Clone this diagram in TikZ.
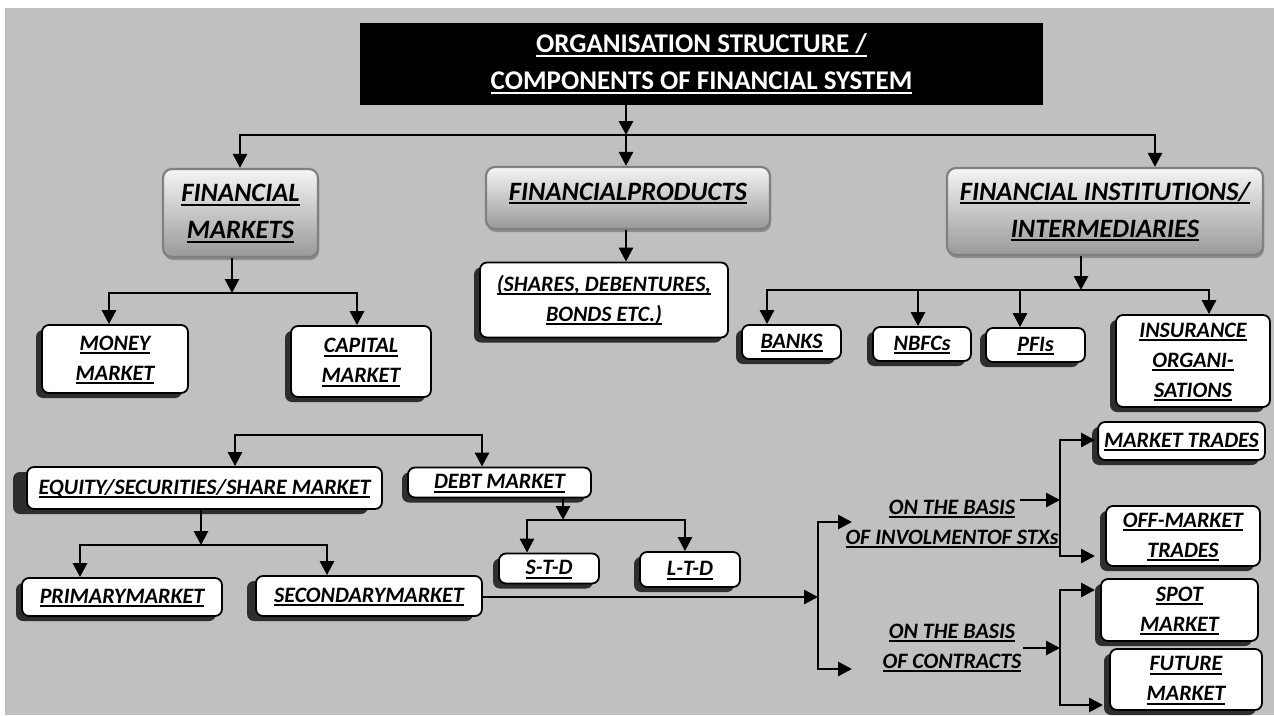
\documentclass[tikz,border=0pt]{standalone}
\usepackage{fontspec}
\setmainfont{Carlito}
\usepackage{tikz}
\usetikzlibrary{arrows.meta,shadows}
\definecolor{bggray}{RGB}{192,192,192}
\newcommand{\ulx}[1]{\setbox0=\hbox{#1}\rlap{\rule[-4pt]{\wd0}{2pt}}\box0}

\begin{document}
\begin{tikzpicture}[x=1pt,y=-1pt,>={Triangle[length=14pt,width=14pt]},
lvl/.style={draw=black!50,line width=2.2pt,rounded corners=9pt,top color=black!4,bottom color=black!40,inner sep=0pt,
 drop shadow={shadow xshift=1pt,shadow yshift=-3pt,fill=black!45,opacity=1},font=\fontsize{26.5}{37}\selectfont\bfseries\itshape},
wbox/.style={draw=black,line width=1.8pt,fill=white,rounded corners=7pt,inner sep=0pt,
 drop shadow={shadow xshift=-#1,shadow yshift=-5pt,fill=black!82,opacity=1},font=\fontsize{22}{30}\selectfont\bfseries\itshape},
wbox/.default=6pt,
plain/.style={inner sep=0pt,font=\fontsize{22}{30}\selectfont\bfseries\itshape},
arr/.style={line width=2.8pt,->},
both/.style={line width=2.8pt,<->}]
\useasboundingbox (0,0) rectangle (1274,715);
\fill[bggray] (5,8) rectangle (1274,715);

\node[fill=black,minimum width=683pt,minimum height=82pt,inner sep=0pt,text=white,font=\fontsize{27}{37}\selectfont\bfseries] (org) at (701.5,64) {\begin{tabular}{c}\ulx{ORGANISATION STRUCTURE /}\\\ulx{COMPONENTS OF FINANCIAL SYSTEM}\end{tabular}};

\node[lvl,minimum width=155pt,minimum height=88pt] (fm) at (240.5,213) {\begin{tabular}{c}\ulx{FINANCIAL}\\\ulx{MARKETS}\end{tabular}};
\node[lvl,minimum width=284pt,minimum height=62pt,text depth=23pt] (fp) at (628,198) {\begin{tabular}{c}\ulx{FINANCIALPRODUCTS}\end{tabular}};
\node[lvl,minimum width=316pt,minimum height=87pt] (fi) at (1105,211.5) {\begin{tabular}{c}\ulx{FINANCIAL INSTITUTIONS/}\\\ulx{INTERMEDIARIES}\end{tabular}};

\node[wbox,minimum width=146pt,minimum height=68pt] (mm) at (115,359) {\begin{tabular}{c}\ulx{MONEY}\\\ulx{MARKET}\end{tabular}};
\node[wbox,minimum width=140pt,minimum height=71pt] (cm) at (361,361.5) {\begin{tabular}{c}\ulx{CAPITAL}\\\ulx{MARKET}\end{tabular}};
\node[wbox,minimum width=248pt,minimum height=75pt] (sh) at (604,300) {\begin{tabular}{c}\ulx{(SHARES, DEBENTURES,}\\\ulx{BONDS ETC.)}\end{tabular}};

\node[wbox,minimum width=99pt,minimum height=34pt] (bk) at (791.5,342) {\begin{tabular}{c}\ulx{BANKS}\end{tabular}};
\node[wbox,minimum width=98pt,minimum height=34pt] (nb) at (922,344) {\begin{tabular}{c}\ulx{NBFCs}\end{tabular}};
\node[wbox,minimum width=99pt,minimum height=34pt] (pf) at (1035.5,345) {\begin{tabular}{c}\ulx{PFIs}\end{tabular}};
\node[wbox,minimum width=154pt,minimum height=92pt] (ins) at (1193,361) {\begin{tabular}{c}\ulx{INSURANCE}\\\ulx{ORGANI-}\\\ulx{SATIONS}\end{tabular}};

\node[wbox=14pt,minimum width=355pt,minimum height=42pt] (eq) at (204.5,488) {\begin{tabular}{c}\ulx{EQUITY/SECURITIES/SHARE MARKET}\end{tabular}};
\node[wbox,minimum width=183pt,minimum height=29pt] (debt) at (499.5,482.5) {\begin{tabular}{c}\ulx{DEBT MARKET}\end{tabular}};
\node[wbox,minimum width=200pt,minimum height=38pt] (pm) at (122,597) {\begin{tabular}{c}\ulx{PRIMARYMARKET}\end{tabular}};
\node[wbox=9pt,minimum width=226pt,minimum height=40pt] (sm) at (369,596) {\begin{tabular}{c}\ulx{SECONDARYMARKET}\end{tabular}};
\node[wbox,minimum width=100pt,minimum height=25pt] (std) at (549,568.5) {\begin{tabular}{c}\ulx{S-T-D}\end{tabular}};
\node[wbox,minimum width=100pt,minimum height=35pt] (ltd) at (690,569.5) {\begin{tabular}{c}\ulx{L-T-D}\end{tabular}};

\node[plain] (on1) at (952,523) {\begin{tabular}{@{}c@{}}\ulx{ON THE BASIS}\\\ulx{OF INVOLMENTOF STXs}\end{tabular}};
\node[plain] (on2) at (952,647) {\begin{tabular}{@{}c@{}}\ulx{ON THE BASIS}\\\ulx{OF CONTRACTS}\end{tabular}};

\node[wbox,minimum width=161pt,minimum height=38pt] (mt) at (1181.5,441) {\begin{tabular}{c}\ulx{MARKET TRADES}\end{tabular}};
\node[wbox,minimum width=154pt,minimum height=56pt] (om) at (1183,536) {\begin{tabular}{c}\ulx{OFF-MARKET}\\\ulx{TRADES}\end{tabular}};
\node[wbox,minimum width=157pt,minimum height=62pt] (sp) at (1179.5,610) {\begin{tabular}{c}\ulx{SPOT}\\\ulx{MARKET}\end{tabular}};
\node[wbox,minimum width=152pt,minimum height=61pt] (fu) at (1186,679.5) {\begin{tabular}{c}\ulx{FUTURE}\\\ulx{MARKET}\end{tabular}};

\coordinate (t0) at (626,135);
\coordinate (t1) at (240,135);
\coordinate (t2) at (1155,135);
\coordinate (m0) at (232,293);
\coordinate (m1) at (109,293);
\coordinate (m2) at (357,293);
\coordinate (i0) at (1081,290);
\coordinate (i1) at (767,290);
\coordinate (i2) at (918,290);
\coordinate (i3) at (1020,290);
\coordinate (i4) at (1209,290);
\coordinate (e1) at (235,435);
\coordinate (e2) at (482,435);
\coordinate (q0) at (201,545);
\coordinate (q1) at (80,545);
\coordinate (q2) at (327,545);
\coordinate (d0) at (563,520);
\coordinate (d1) at (527,520);
\coordinate (d2) at (685,520);
\coordinate (s0) at (818,597);
\coordinate (s1) at (818,522);
\coordinate (s2) at (818,669);
\coordinate (s3) at (852,522);
\coordinate (s4) at (852,669);
\coordinate (k0) at (1060,500);
\coordinate (k1) at (1060,440);
\coordinate (k2) at (1060,556);
\coordinate (k3) at (1095,440);
\coordinate (k4) at (1095,556);
\coordinate (k5) at (1020,500);
\coordinate (c0) at (1060,648);
\coordinate (c1) at (1060,590);
\coordinate (c2) at (1060,705);
\coordinate (c3) at (1095,590);
\coordinate (c4) at (1103,705);
\coordinate (c5) at (1023,648);

\draw[arr] (t0 |- org.south) -- (t0);
\draw[both] (t1 |- fm.north) -- (t1) -- (t2) -- (t2 |- fi.north);
\draw[arr] (t0) -- (t0 |- fp.north);
\draw[arr] (m0 |- fm.south) -- (m0);
\draw[both] (m1 |- mm.north) -- (m1) -- (m2) -- (m2 |- cm.north);
\draw[arr] (t0 |- fp.south) -- (t0 |- sh.north);
\draw[arr] (i0 |- fi.south) -- (i0);
\draw[both] (i1 |- bk.north) -- (i1) -- (i4) -- (i4 |- ins.north);
\draw[arr] (i2) -- (i2 |- nb.north);
\draw[arr] (i3) -- (i3 |- pf.north);
\draw[both] (e1 |- eq.north) -- (e1) -- (e2) -- (e2 |- debt.north);
\draw[arr] (q0 |- eq.south) -- (q0);
\draw[both] (q1 |- pm.north) -- (q1) -- (q2) -- (q2 |- sm.north);
\draw[arr] (d0 |- debt.south) -- (d0);
\draw[both] (d1 |- std.north) -- (d1) -- (d2) -- (d2 |- ltd.north);
\draw[arr] (sm.east |- s0) -- (s0);
\draw[both] (s3) -- (s1) -- (s2) -- (s4);
\draw[arr] (k5) -- (k0);
\draw[both] (k3) -- (k1) -- (k2) -- (k4);
\draw[arr] (c5) -- (c0);
\draw[both] (c3) -- (c1) -- (c2) -- (c4);
\end{tikzpicture}
\end{document}
